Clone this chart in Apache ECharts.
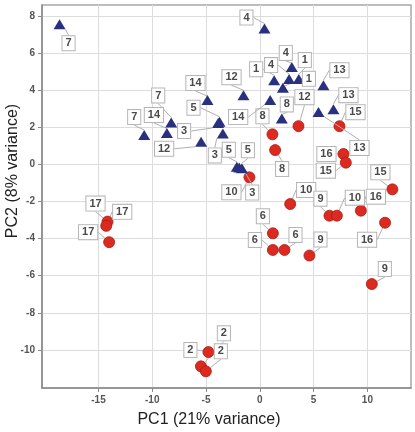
<!DOCTYPE html>
<html>
<head>
<meta charset="utf-8">
<script src="https://cdn.jsdelivr.net/npm/echarts@6/dist/echarts.min.js"></script>
<style>html,body{margin:0;padding:0;background:#fff}#c{width:415px;height:432px}</style>
</head>
<body>
<div id="c"></div>
<script>
// ---- data ----
const xTicks = [-15, -10, -5, 0, 5, 10];
const yTicks = [-10, -8, -6, -4, -2, 0, 2, 4, 6, 8];
const xTitle = 'PC1 (21% variance)';
const yTitle = 'PC2 (8% variance)';

const triPC1 = [-18.62, -10.75, -8.64, -8.24, -5.46, -4.87, 0.43, 2.97, 1.33, 2.72, 3.62, 2.14, 5.91, -1.52, 0.96, 2.04, 5.45, 6.84, -3.75, -3.88, -3.44, -2.14, -1.67, -1.92];
const triPC2 = [7.57, 1.59, 1.70, 2.27, 1.23, 3.48, 7.34, 5.27, 4.55, 4.61, 4.61, 4.14, 4.28, 3.74, 3.48, 2.49, 2.84, 2.99, 2.31, 2.24, 1.68, -0.12, -0.20, -0.16];
const triLabels = ['7', '7', '14', '7', '12', '14', '4', '4', '1', '4', '1', '1', '13', '12', '14', '8', '13', '13', '5', '3', '3', '5', '5', '3'];

const dotPC1 = [1.17, 1.42, 3.59, 7.40, 7.77, 7.99, -0.97, 12.32, 2.82, 6.47, 7.16, 9.39, 11.64, 1.21, 1.21, 2.29, 4.61, 10.41, -4.78, -5.48, -5.02, -14.16, -14.28, -14.01];
const dotPC2 = [1.63, 0.78, 2.07, 2.07, 0.57, 0.10, -0.69, -1.34, -2.13, -2.76, -2.76, -2.49, -3.14, -3.71, -4.61, -4.61, -4.91, -6.45, -10.12, -10.89, -11.16, -3.08, -3.31, -4.19];
const dotLabels = ['8', '8', '12', '15', '16', '15', '10', '15', '10', '9', '10', '16', '16', '6', '6', '6', '9', '9', '2', '2', '2', '17', '17', '17'];

// ---- label placement (pixel offsets, layout only) ----
const triLabelOffsets = [[9,19],[-10,-18],[-13,-18],[-13,-27],[-37,7],[-12,-17],[-18,-11],[-6,-14],[-18,-11],[-18,-14],[6,-19],[26,-9],[16,-15],[-12,-18],[-32,17],[5,-14],[41,36],[15,-14],[-26,-14],[-34,8],[-8,22],[-8,-17],[6,-18],[13,25]];
const dotLabelOffsets = [[-10,-18],[7,19],[6,-29],[16,-14],[-17,0],[-20,8],[-18,15],[-12,-17],[16,-14],[-9,-17],[18,-18],[15,-14],[-18,17],[-10,-17],[-18,-10],[11,-15],[11,-16],[13,-15],[-18,-2],[23,-33],[15,-20],[-12,-18],[16,-14],[-21,-10]];

const FONT = 'Liberation Sans, Arial, Helvetica, sans-serif';

function pairs(xs, ys, labels) {
  return xs.map((x, i) => ({ value: [x, ys[i]], name: labels[i] }));
}

const labelStyle = {
  show: true,
  position: 'inside',
  formatter: p => p.name,
  fontFamily: FONT,
  fontSize: 11,
  fontWeight: 'bold',
  color: '#4a4a4a',
  backgroundColor: '#fff',
  borderColor: '#b5b5b5',
  borderWidth: 1,
  padding: [2, 3, 1, 3],
  lineHeight: 11
};
const lineStyle = { show: true, lineStyle: { color: '#b0b0b0', width: 1 } };

const chart = echarts.init(document.getElementById('c'), null, { renderer: 'canvas' });
chart.setOption({
  animation: false,
  backgroundColor: '#fff',
  grid: { left: 42, right: 4, top: 5, bottom: 44, show: true, borderColor: '#a8a8a8', borderWidth: 1.5, containLabel: false },
  xAxis: {
    type: 'value', min: -20.25, max: 14.05,
    axisLine: { show: true, onZero: false, lineStyle: { color: '#8a8a8a', width: 1.5 } },
    axisTick: { show: true, customValues: xTicks, length: 4, lineStyle: { color: '#8a8a8a' } },
    axisLabel: { customValues: xTicks, margin: 7, fontFamily: FONT, fontSize: 10, fontWeight: 'bold', color: '#555' },
    splitLine: { show: true, lineStyle: { color: '#dcdcdc', width: 1 } }
  },
  yAxis: {
    type: 'value', min: -12.06, max: 8.61,
    axisLine: { show: true, onZero: false, lineStyle: { color: '#8a8a8a', width: 1.5 } },
    axisTick: { show: true, customValues: yTicks, length: 4, lineStyle: { color: '#8a8a8a' } },
    axisLabel: { customValues: yTicks, margin: 7, fontFamily: FONT, fontSize: 10, fontWeight: 'bold', color: '#555' },
    splitLine: { show: true, lineStyle: { color: '#dcdcdc', width: 1 } }
  },
  graphic: [
    { type: 'text', x: 209, y: 420, style: { text: xTitle, font: '16px ' + FONT, fill: '#222', textAlign: 'center', textVerticalAlign: 'middle' } },
    { type: 'text', x: 13, y: 171, rotation: Math.PI / 2, style: { text: yTitle, font: '16px ' + FONT, fill: '#222', textAlign: 'center', textVerticalAlign: 'middle' } }
  ],
  series: [
    {
      type: 'scatter', name: 'dots', symbol: 'circle', symbolSize: 11,
      data: pairs(dotPC1, dotPC2, dotLabels),
      itemStyle: { color: '#dc2a20', borderColor: '#a81a12', borderWidth: 0.8, opacity: 1 },
      label: labelStyle, labelLine: lineStyle,
      labelLayout: p => ({ dx: dotLabelOffsets[p.dataIndex][0], dy: dotLabelOffsets[p.dataIndex][1] }),
      z: 3
    },
    {
      type: 'scatter', name: 'tris', symbol: 'triangle', symbolSize: [12, 10],
      data: pairs(triPC1, triPC2, triLabels),
      itemStyle: { color: '#29317f', opacity: 1 },
      label: labelStyle, labelLine: lineStyle,
      labelLayout: p => ({ dx: triLabelOffsets[p.dataIndex][0], dy: triLabelOffsets[p.dataIndex][1] }),
      z: 4
    }
  ]
});
</script>
</body>
</html>
